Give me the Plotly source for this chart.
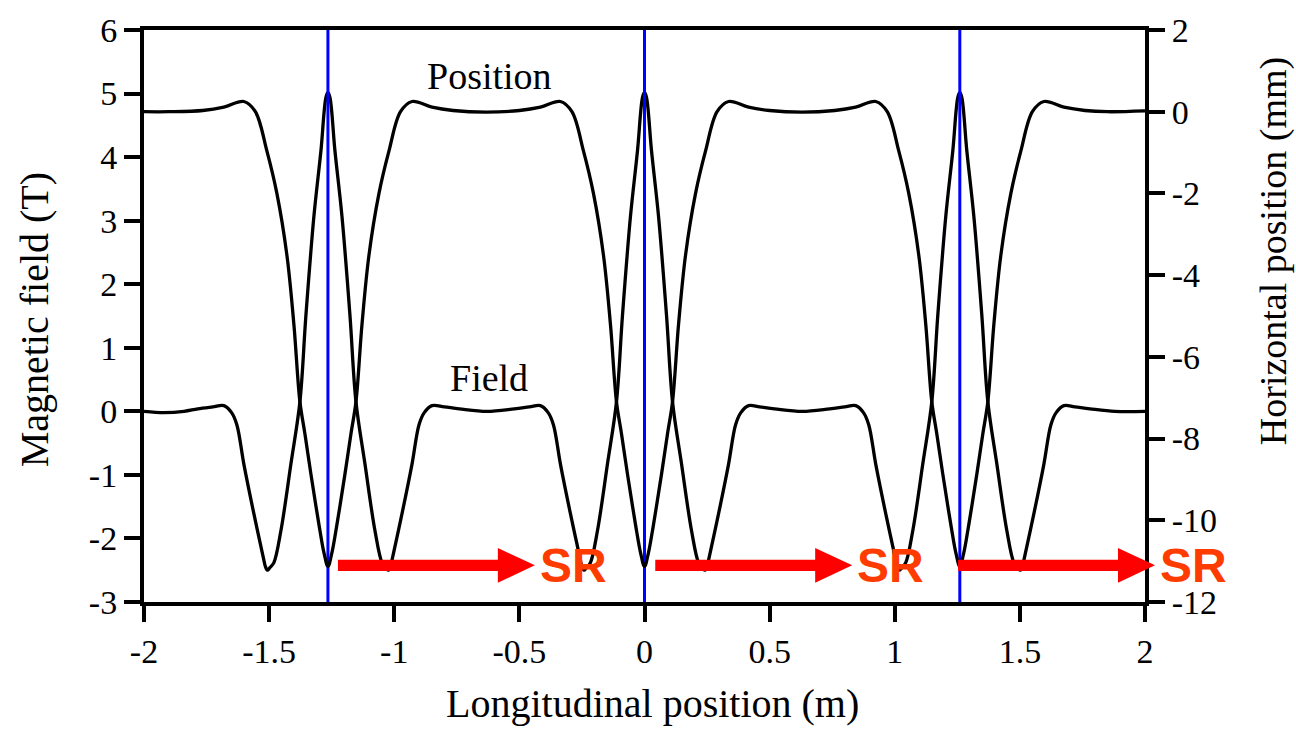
import plotly.graph_objects as go

# ---------------- data ----------------
x_tick_vals = [-2, -1.5, -1, -0.5, 0, 0.5, 1, 1.5, 2]
x_tick_text = ["-2", "-1.5", "-1", "-0.5", "0", "0.5", "1", "1.5", "2"]
field_tick_vals = [-3, -2, -1, 0, 1, 2, 3, 4, 5, 6]
field_tick_text = ["-3", "-2", "-1", "0", "1", "2", "3", "4", "5", "6"]
pos_tick_vals = [-12, -10, -8, -6, -4, -2, 0, 2]
pos_tick_text = ["-12", "-10", "-8", "-6", "-4", "-2", "0", "2"]

# Magnetic field (T) along the beam
field_x = [-2.0, -1.92, -1.84, -1.785, -1.725, -1.681, -1.650, -1.629, -1.601, -1.561,
           -1.521, -1.515, -1.507, -1.497, -1.481, -1.453, -1.413, -1.377, -1.353, -1.321,
           -1.293, -1.273, -1.265, -1.257, -1.237, -1.209, -1.177, -1.153, -1.117, -1.077,
           -1.049, -1.033, -1.023, -1.015, -1.009, -0.969, -0.929, -0.901, -0.880, -0.849,
           -0.80, -0.74, -0.63, -0.52, -0.46, -0.416, -0.385, -0.364, -0.336, -0.296,
           -0.256, -0.250, -0.242, -0.232, -0.216, -0.188, -0.148, -0.112, -0.088, -0.056,
           -0.028, -0.008, 0.0, 0.008, 0.028, 0.056, 0.088, 0.112, 0.148, 0.188,
           0.216, 0.232, 0.242, 0.250, 0.256, 0.296, 0.336, 0.364, 0.385, 0.416,
           0.46, 0.52, 0.63, 0.74, 0.80, 0.844, 0.875, 0.896, 0.924, 0.964,
           1.004, 1.010, 1.018, 1.028, 1.044, 1.072, 1.112, 1.148, 1.172, 1.204,
           1.232, 1.252, 1.26, 1.268, 1.288, 1.316, 1.348, 1.372, 1.408, 1.448,
           1.476, 1.492, 1.502, 1.510, 1.516, 1.556, 1.596, 1.624, 1.645, 1.676,
           1.72, 1.78, 1.88, 2.0]
field_T = [0.0, -0.02, 0.0, 0.04, 0.07, 0.09, -0.02, -0.21, -0.83, -1.61,
           -2.34, -2.44, -2.50, -2.46, -2.38, -1.88, -0.83, 0.15, 1.51, 3.07,
           4.10, 4.94, 5.02, 4.94, 4.10, 3.07, 1.51, 0.15, -0.83, -1.88,
           -2.38, -2.46, -2.50, -2.44, -2.34, -1.61, -0.83, -0.21, -0.02, 0.09,
           0.07, 0.04, 0.0, 0.04, 0.07, 0.09, -0.02, -0.21, -0.83, -1.61,
           -2.34, -2.44, -2.50, -2.46, -2.38, -1.88, -0.83, 0.15, 1.51, 3.07,
           4.10, 4.94, 5.02, 4.94, 4.10, 3.07, 1.51, 0.15, -0.83, -1.88,
           -2.38, -2.46, -2.50, -2.44, -2.34, -1.61, -0.83, -0.21, -0.02, 0.09,
           0.07, 0.04, 0.0, 0.04, 0.07, 0.09, -0.02, -0.21, -0.83, -1.61,
           -2.34, -2.44, -2.50, -2.46, -2.38, -1.88, -0.83, 0.15, 1.51, 3.07,
           4.10, 4.94, 5.02, 4.94, 4.10, 3.07, 1.51, 0.15, -0.83, -1.88,
           -2.38, -2.46, -2.50, -2.44, -2.34, -1.61, -0.83, -0.21, -0.02, 0.09,
           0.07, 0.04, 0.0, 0.0]

# Horizontal beam position (mm) along the beam
pos_x = [-2.0, -1.90, -1.765, -1.681, -1.601, -1.555, -1.509, -1.469, -1.429, -1.401,
         -1.377, -1.357, -1.333, -1.313, -1.297, -1.281, -1.265, -1.249, -1.233, -1.217,
         -1.197, -1.173, -1.153, -1.129, -1.101, -1.061, -1.021, -0.975, -0.929, -0.849,
         -0.765, -0.633, -0.50, -0.416, -0.336, -0.29, -0.244, -0.204, -0.164, -0.136,
         -0.112, -0.092, -0.068, -0.048, -0.032, -0.016, 0.0, 0.016, 0.032, 0.048,
         0.068, 0.092, 0.112, 0.136, 0.164, 0.204, 0.244, 0.29, 0.336, 0.416,
         0.50, 0.63, 0.76, 0.844, 0.924, 0.97, 1.016, 1.056, 1.096, 1.124,
         1.148, 1.168, 1.192, 1.212, 1.228, 1.244, 1.26, 1.276, 1.292, 1.308,
         1.328, 1.352, 1.372, 1.396, 1.424, 1.464, 1.504, 1.55, 1.596, 1.676,
         1.76, 1.85, 2.0]
pos_mm = [0.0, 0.0, 0.03, 0.11, 0.25, 0.0, -0.96, -2.00, -3.51, -5.21,
          -7.10, -7.88, -8.87, -9.65, -10.25, -10.79, -11.13, -10.79, -10.25, -9.65,
          -8.87, -7.88, -7.10, -5.21, -3.51, -2.00, -0.96, 0.0, 0.25, 0.11,
          0.03, -0.01, 0.03, 0.11, 0.25, 0.0, -0.96, -2.00, -3.51, -5.21,
          -7.10, -7.88, -8.87, -9.65, -10.25, -10.79, -11.13, -10.79, -10.25, -9.65,
          -8.87, -7.88, -7.10, -5.21, -3.51, -2.00, -0.96, 0.0, 0.25, 0.11,
          0.03, -0.01, 0.03, 0.11, 0.25, 0.0, -0.96, -2.00, -3.51, -5.21,
          -7.10, -7.88, -8.87, -9.65, -10.25, -10.79, -11.13, -10.79, -10.25, -9.65,
          -8.87, -7.88, -7.10, -5.21, -3.51, -2.00, -0.96, 0.0, 0.25, 0.11,
          0.03, 0.0, 0.02]

pole_centers = [-1.265, 0.0, 1.26]           # field peaks / radiation points (m)
sr_arrow_start = [-1.225, 0.043, 1.253]     # start of each SR arrow (m)
sr_label = "SR"

# ---------------- figure ----------------
SERIF = "Liberation Serif, Times New Roman, serif"
SANS = "Liberation Sans, Arial, sans-serif"
X0, X1 = -2.0, 2.0

fig = go.Figure()

fig.add_trace(go.Scatter(x=field_x, y=field_T, mode="lines", yaxis="y",
                         line=dict(color="black", width=3.3, shape="spline", smoothing=1.0),
                         showlegend=False, hoverinfo="skip"))
fig.add_trace(go.Scatter(x=pos_x, y=pos_mm, mode="lines", yaxis="y2",
                         line=dict(color="black", width=3.3, shape="spline", smoothing=1.0),
                         showlegend=False, hoverinfo="skip"))

for c in pole_centers:
    fig.add_trace(go.Scatter(x=[c, c], y=[-3, 6], mode="lines", yaxis="y",
                             line=dict(color="#0000FF", width=3),
                             showlegend=False, hoverinfo="skip"))

def xp(x):
    return (x - X0) / (X1 - X0)

arrow_len = 0.787      # m, shaft + head
head_len = 0.148       # m
y_mid = 0.0641         # paper
shaft_h = 0.0097
head_h = 0.0303
for s in sr_arrow_start:
    a, b, t = xp(s), xp(s + arrow_len - head_len), xp(s + arrow_len)
    path = (f"M {a},{y_mid - shaft_h} L {b},{y_mid - shaft_h} L {b},{y_mid - head_h} "
            f"L {t},{y_mid} L {b},{y_mid + head_h} L {b},{y_mid + shaft_h} "
            f"L {a},{y_mid + shaft_h} Z")
    fig.add_shape(type="path", path=path, xref="paper", yref="paper",
                  fillcolor="#FF0000", line=dict(width=0), layer="above")
    fig.add_annotation(x=xp(s + arrow_len) + 0.0386, y=y_mid, xref="paper", yref="paper",
                       text=f"<b>{sr_label}</b>", showarrow=False,
                       font=dict(family=SANS, size=48, color="#FF3C00"),
                       xanchor="center", yanchor="middle")

# curve labels
fig.add_annotation(x=-0.62, y=5.28, xref="x", yref="y", text="Position", showarrow=False,
                   font=dict(family=SERIF, size=38, color="black"), xanchor="center", yanchor="middle")
fig.add_annotation(x=-0.62, y=0.52, xref="x", yref="y", text="Field", showarrow=False,
                   font=dict(family=SERIF, size=38, color="black"), xanchor="center", yanchor="middle")

# axis titles
fig.add_annotation(x=0.5075, y=-0.178, xref="paper", yref="paper", text="Longitudinal position (m)",
                   showarrow=False, font=dict(family=SERIF, size=40, color="black"),
                   xanchor="center", yanchor="middle")
fig.add_annotation(x=-0.109, y=0.494, xref="paper", yref="paper", text="Magnetic field (T)",
                   showarrow=False, textangle=-90, font=dict(family=SERIF, size=40, color="black"),
                   xanchor="center", yanchor="middle")
fig.add_annotation(x=1.128, y=0.6135, xref="paper", yref="paper", text="Horizontal position (mm)",
                   showarrow=False, textangle=-90, font=dict(family=SERIF, size=38, color="black"),
                   xanchor="center", yanchor="middle")

axis_common = dict(showgrid=False, zeroline=False, showline=True, linecolor="black",
                   linewidth=4, ticks="outside", ticklen=16, tickwidth=4, tickcolor="black",
                   tickfont=dict(family=SERIF, size=34, color="black"))

fig.update_layout(
    width=1296, height=731, autosize=False,
    margin=dict(l=144, r=151, t=25, b=129, pad=0),
    paper_bgcolor="white", plot_bgcolor="white",
    xaxis=dict(range=[X0, X1], tickvals=x_tick_vals, ticktext=x_tick_text, mirror=True,
               **axis_common),
    yaxis=dict(range=[-3, 6], tickvals=field_tick_vals, ticktext=field_tick_text, **axis_common),
    yaxis2=dict(range=[-12, 2], tickvals=pos_tick_vals, ticktext=pos_tick_text,
                overlaying="y", side="right", **axis_common),
)

fig.write_html("out.html")
